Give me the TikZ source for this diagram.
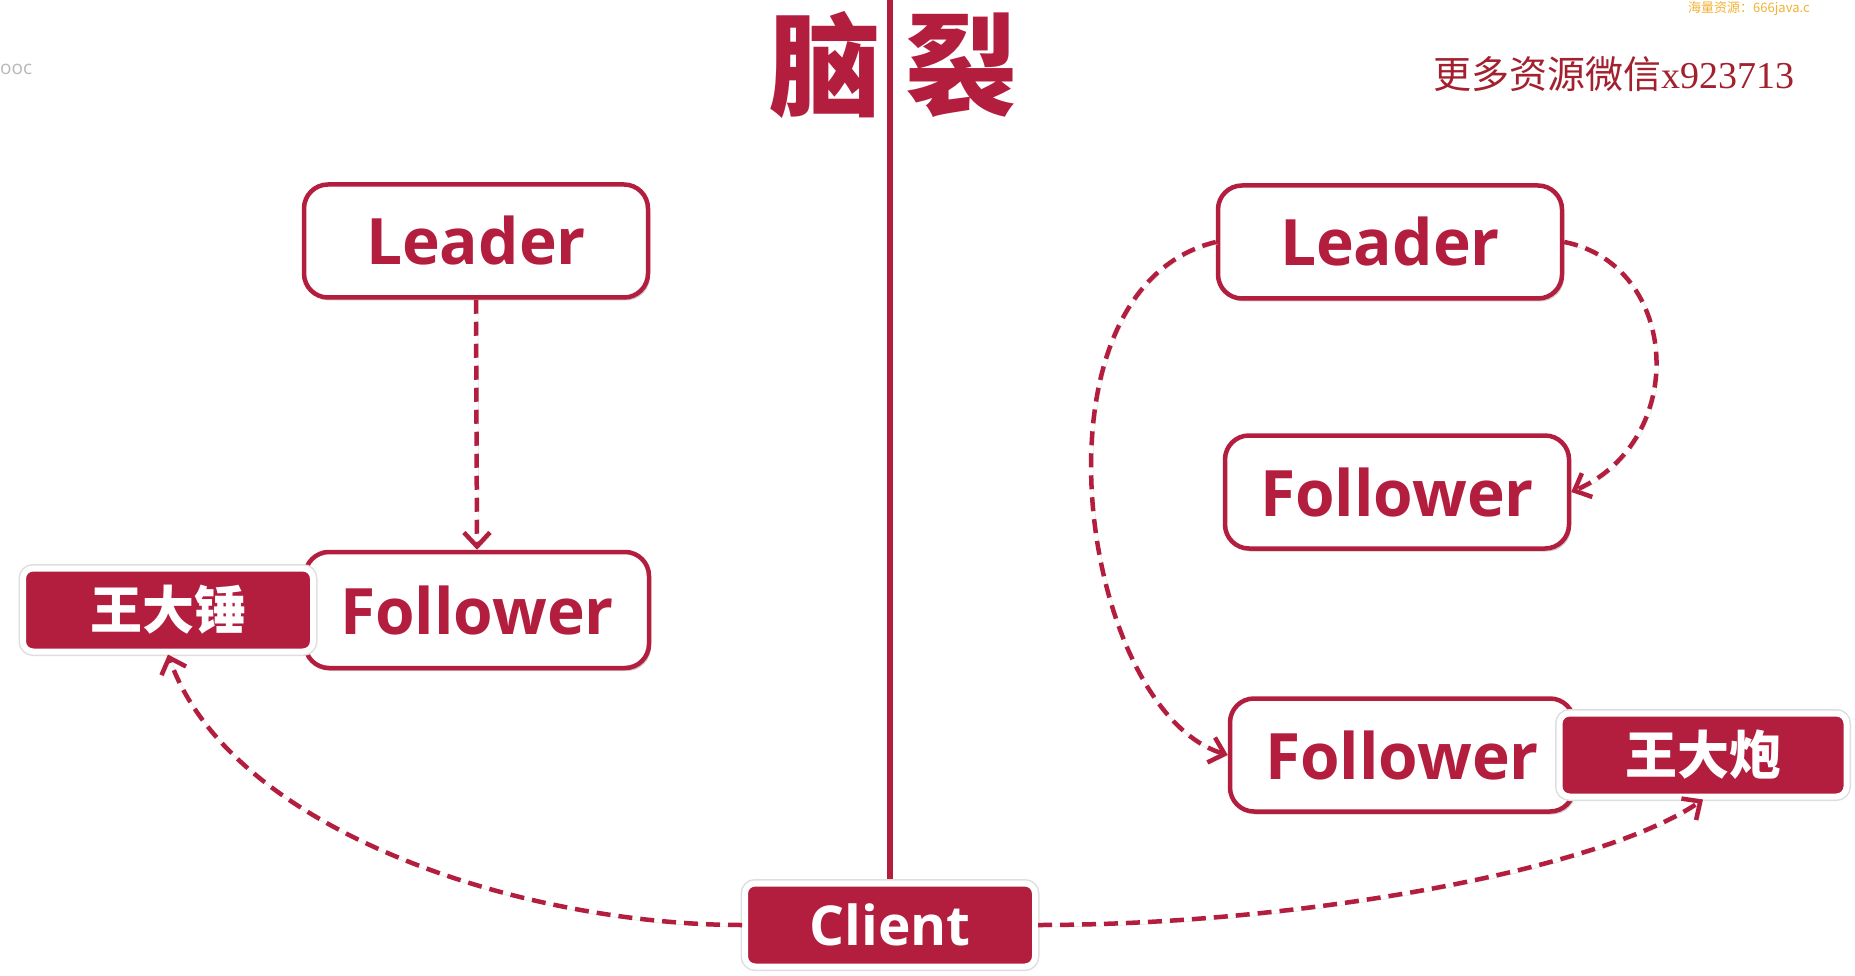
\documentclass[tikz,border=0pt]{standalone}
\usepackage{fontspec}
\setmainfont{Open Sans}
\newfontfamily\cjk{Noto Sans CJK SC}
\newfontfamily\cjkblack{Noto Sans CJK SC Black}
\newfontfamily\wmserif{Liberation Serif}
\usetikzlibrary{arrows.meta,shadows}
\definecolor{crim}{HTML}{B31E3F}
\definecolor{wmred}{HTML}{A3202E}
\definecolor{wmorange}{HTML}{F2B234}
\tikzset{
  shd/.style={drop shadow={shadow xshift=2pt,shadow yshift=-3pt,opacity=0.2,fill=black}},
  box/.style={draw=crim, line width=4.5pt, rounded corners=24pt, fill=white,
    minimum width=344pt, minimum height=113pt, inner sep=0pt, text=crim, shd,
    font=\bfseries\fontsize{64}{64}\selectfont},
  tagbox/.style={draw=white, line width=6pt, fill=crim, rounded corners=10pt,
    minimum width=290pt, minimum height=83pt, inner sep=0pt, text=white, shd,
    preaction={draw=black!13, line width=9pt},
    font=\cjk\bfseries\fontsize{52}{52}\selectfont},
  link/.style={crim, line width=4.5pt, dash pattern=on 14pt off 8pt,
    -{Straight Barb[length=14pt,width=26pt,line width=4.5pt]},
    preaction={draw=black!12, transform canvas={xshift=2pt,yshift=-2pt}}}
}
\begin{document}
\begin{tikzpicture}[x=1pt,y=-1pt]
\useasboundingbox[fill=white] (0,0) rectangle (1855,976);

% watermarks
\node[anchor=west, inner sep=0pt, text=gray!55, font=\fontsize{19}{19}\selectfont] (ooc) at (0,69) {ooc};
\node[anchor=north west, inner sep=0pt, text=wmorange, font=\cjk\fontsize{13}{13}\selectfont] (wm2) at (1688,1) {海量资源：666java.c};
\node[inner sep=0pt, text=wmred, font=\cjk\fontsize{38}{38}\selectfont] (wm1) at (1614,74) {更多资源微信{\wmserif x923713}};

% title
\node[inner sep=0pt, text=crim, font=\cjkblack\fontsize{112}{112}\selectfont] (t1) at (825,65) {脑};
\node[inner sep=0pt, text=crim, font=\cjkblack\fontsize{112}{112}\selectfont] (t2) at (961,65) {裂};

% divider
\coordinate (top) at (890,0);
\coordinate (divbot) at (890,890);
\draw[crim, line width=6pt, preaction={draw=black!12, transform canvas={xshift=2pt}}] (top) -- (divbot);

% left side
\node[box] (LL) at (476,241) {Leader};
\node[box, minimum height=116pt] (LF) at (477,610) {Follower};
\node[tagbox] (WDC) at (168,610) {王大锤};

% right side
\node[box] (RL) at (1390,242) {Leader};
\node[box] (RF1) at (1397,492) {Follower};
\node[box] (RF2) at (1402,755) {Follower};
\node[tagbox, minimum width=287pt] (WDP) at (1703,755) {王大炮};

% client
\node[tagbox, font=\bfseries\fontsize{55}{55}\selectfont, minimum width=290pt, minimum height=83pt] (CL) at (890,925) {Client};

% connectors
\draw[link] (LL.south) -- (LF.north);
\draw[link] (RL.west) .. controls (1020,290) and (1080,710) .. (RF2.west);
\draw[link] (RL.east) .. controls (1680,265) and (1690,440) .. (RF1.east);
\draw[link] (CL.west) .. controls (520,925) and (230,830) .. (WDC.south);
\draw[link] (CL.east) .. controls (1300,925) and (1600,870) .. (WDP.south);
\end{tikzpicture}
\end{document}
